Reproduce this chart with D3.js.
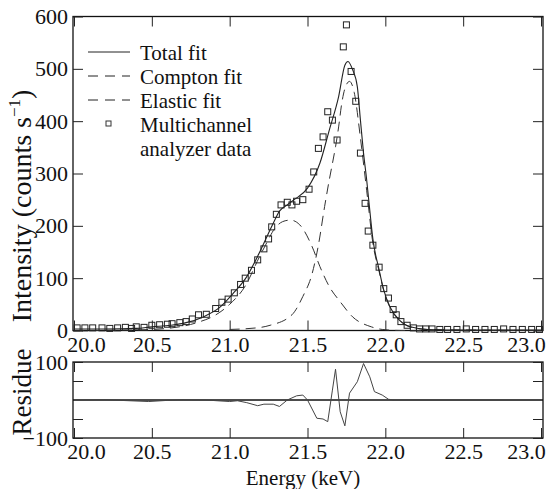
<!DOCTYPE html>
<html>
<head>
<meta charset="utf-8">
<script src="https://cdn.jsdelivr.net/npm/d3@7"></script>
<style>
body{margin:0;background:#fff}
text{font-family:"Liberation Serif","Times New Roman",serif;fill:#111}
</style>
</head>
<body>
<div id="chart"></div>
<script>
// multichannel analyzer data (keV, counts/s)
var energy = [20.02,20.07,20.12,20.18,20.23,20.28,20.33,20.37,20.40,20.45,20.50,20.55,20.60,20.63,20.68,20.72,20.76,20.80,20.85,20.91,20.95,20.99,21.03,21.07,21.10,21.14,21.18,21.22,21.25,21.27,21.30,21.33,21.37,21.40,21.43,21.47,21.51,21.54,21.57,21.60,21.63,21.66,21.69,21.73,21.75,21.78,21.81,21.84,21.87,21.89,21.92,21.96,21.99,22.02,22.05,22.07,22.10,22.14,22.18,22.22,22.26,22.30,22.35,22.40,22.46,22.52,22.58,22.64,22.70,22.76,22.82,22.88,22.94,22.99];
var counts = [5,5,5,5,4,5,6,4,7,6,10,11,12,13,15,17,22,30,31,42,54,60,72,88,100,115,135,156,175,198,222,240,245,240,247,250,270,303,348,370,418,402,364,542,584,495,438,339,243,190,163,121,80,62,40,30,17,10,5,3,3,3,2,2,2,3,2,2,2,3,2,2,2,2];

// total fit
var totalE   = [20.00,20.20,20.40,20.50,20.62,20.72,20.83,20.94,21.02,21.11,21.19,21.28,21.32,21.37,21.41,21.50,21.58,21.64,21.70,21.74,21.76,21.79,21.82,21.84,21.86,21.88,21.90,21.92,21.96,21.99,22.03,22.09,22.16,22.27,22.50,23.00];
var totalFit = [3,3,4,7,10,15,26,45,70,103,148,205,228,240,249,272,320,383,447,507,514,498,466,402,339,288,230,175,116,77,45,20,7,2,1,1];

// Compton fit
var comptonE   = [20.00,20.40,20.60,20.80,20.90,21.00,21.10,21.19,21.23,21.29,21.34,21.39,21.45,21.53,21.58,21.64,21.71,21.79,21.91,21.98,22.10,23.00];
var comptonFit = [0,1,4,16,28,50,85,140,163,195,208,211,202,160,122,84,55,26,7,2,0,0];

// Elastic fit
var elasticE   = [21.00,21.20,21.26,21.40,21.47,21.53,21.57,21.61,21.64,21.66,21.68,21.70,21.72,21.74,21.77,21.80,21.84,21.88,21.92,21.96,21.99,22.03,22.09,22.16,22.27,23.00];
var elasticFit = [2,6,10,30,65,109,163,237,288,319,351,389,434,462,476,455,368,268,167,113,76,44,20,7,2,0];

// residue
var residE  = [20.00,20.20,20.30,20.48,20.60,20.70,20.85,20.92,21.00,21.05,21.11,21.18,21.22,21.28,21.32,21.37,21.43,21.47,21.50,21.56,21.60,21.63,21.66,21.68,21.71,21.74,21.77,21.82,21.86,21.90,21.93,21.98,22.02,22.05,23.00];
var residue = [0,1,-1,-4,-1,1,0,-2,-4,-2,-7,-15,-11,-11,-17,0,11,13,0,-48,-50,-57,26,81,-31,-68,18,48,96,61,22,13,2,0,0];

var xTicks = [20.0,20.5,21.0,21.5,22.0,22.5,23.0];
var yTicks = [0,100,200,300,400,500,600];
var resTicks = [-100,-50,50,100];
var resLabels = [-100,100];

var w = 547, h = 489;
var svg = d3.select("#chart").append("svg")
    .attr("width", w)
    .attr("height", h);

var x = d3.scaleLinear().domain([20, 23]).range([74, 541]);
var y = d3.scaleLinear().domain([0, 600]).range([330.5, 16.5]);
var yr = d3.scaleLinear().domain([-100, 100]).range([438, 362]);

var frameL = 73, frameR = 543;
var serif = "'Liberation Serif', 'Times New Roman', serif";

// frames
svg.append("rect")
    .attr("x", frameL).attr("y", y(600))
    .attr("width", frameR - frameL).attr("height", y(0) - y(600))
    .attr("fill", "none").attr("stroke", "#111").attr("stroke-width", 1.3);
svg.append("rect")
    .attr("x", frameL).attr("y", yr(100))
    .attr("width", frameR - frameL).attr("height", yr(-100) - yr(100))
    .attr("fill", "none").attr("stroke", "#111").attr("stroke-width", 1.3);

function clean(g) {
    g.attr("font-family", null);
    g.select(".domain").remove();
    g.selectAll("line").attr("stroke", "#222");
    g.selectAll("text").attr("font-size", 22).attr("fill", "#111");
}

function shiftEnds(g) {
    g.selectAll("text").filter(function(d) { return d === 20; }).attr("dx", 12);
    g.selectAll("text").filter(function(d) { return d === 23; }).attr("dx", -15);
}

// main panel axes
svg.append("g").attr("transform", "translate(0," + y(0) + ")")
    .call(d3.axisBottom(x).tickValues(xTicks).tickSizeInner(-10).tickSizeOuter(0).tickPadding(6)
        .tickFormat(d3.format(".1f")))
    .call(clean)
    .call(shiftEnds);
svg.append("g").attr("transform", "translate(0," + y(600) + ")")
    .call(d3.axisTop(x).tickValues(xTicks).tickSizeInner(-10).tickSizeOuter(0).tickFormat(""))
    .call(clean);
svg.append("g").attr("transform", "translate(" + frameL + ",0)")
    .call(d3.axisLeft(y).tickValues(yTicks).tickSizeInner(-10).tickSizeOuter(0).tickPadding(5))
    .call(clean);
svg.append("g").attr("transform", "translate(" + frameR + ",0)")
    .call(d3.axisRight(y).tickValues(yTicks).tickSizeInner(-10).tickSizeOuter(0).tickFormat(""))
    .call(clean);

// residue panel axes
svg.append("g").attr("transform", "translate(0," + yr(-100) + ")")
    .call(d3.axisBottom(x).tickValues(xTicks).tickSizeInner(-10).tickSizeOuter(0).tickPadding(5)
        .tickFormat(d3.format(".1f")))
    .call(clean)
    .call(shiftEnds);
svg.append("g").attr("transform", "translate(0," + yr(100) + ")")
    .call(d3.axisTop(x).tickValues(xTicks).tickSizeInner(-10).tickSizeOuter(0).tickFormat(""))
    .call(clean);
svg.append("g").attr("transform", "translate(" + frameL + ",0)")
    .call(d3.axisLeft(yr).tickValues(resTicks).tickSizeInner(-10).tickSizeOuter(0).tickPadding(5)
        .tickFormat(function(d) { return resLabels.indexOf(d) >= 0 ? String(d).replace("-", "\u2212") : ""; }))
    .call(clean);
svg.append("g").attr("transform", "translate(" + frameR + ",0)")
    .call(d3.axisRight(yr).tickValues(resTicks).tickSizeInner(-10).tickSizeOuter(0).tickFormat(""))
    .call(clean);

// fits
var line = function(xs) {
    return d3.line()
        .x(function(d, i) { return x(xs[i]); })
        .y(function(d) { return y(d); })
        .curve(d3.curveMonotoneX);
};

svg.append("path").datum(comptonFit)
    .attr("d", line(comptonE))
    .attr("fill", "none").attr("stroke", "#333").attr("stroke-width", 1)
    .attr("stroke-dasharray", "10,6");
svg.append("path").datum(elasticFit)
    .attr("d", line(elasticE))
    .attr("fill", "none").attr("stroke", "#333").attr("stroke-width", 1)
    .attr("stroke-dasharray", "10,6");
svg.append("path").datum(totalFit)
    .attr("d", line(totalE))
    .attr("fill", "none").attr("stroke", "#222").attr("stroke-width", 1.1);

// data squares
var sq = 6;
svg.selectAll("rect.pt")
    .data(counts)
  .enter().append("rect")
    .attr("class", "pt")
    .attr("x", function(d, i) { return x(energy[i]) - sq / 2; })
    .attr("y", function(d) { return y(d) - sq / 2; })
    .attr("width", sq).attr("height", sq)
    .attr("fill", "none").attr("stroke", "#222").attr("stroke-width", 1);

// residue
svg.append("line")
    .attr("x1", frameL).attr("x2", frameR)
    .attr("y1", yr(0)).attr("y2", yr(0))
    .attr("stroke", "#111").attr("stroke-width", 1.5);
svg.append("path").datum(residue)
    .attr("d", d3.line()
        .x(function(d, i) { return x(residE[i]); })
        .y(function(d) { return yr(d); }))
    .attr("fill", "none").attr("stroke", "#444").attr("stroke-width", 1);

// legend
var legendItems = ["Total fit", "Compton fit", "Elastic fit"];
var legendDash = [null, "10,7", "10,7"];
var lg = svg.append("g").attr("transform", "translate(88,0)");
legendItems.forEach(function(t, i) {
    var yy = 52 + i * 24;
    lg.append("line").attr("x1", 0).attr("x2", 42).attr("y1", yy).attr("y2", yy)
        .attr("stroke", "#222").attr("stroke-width", 1)
        .attr("stroke-dasharray", legendDash[i]);
    lg.append("text").attr("x", 52).attr("y", yy + 8).attr("font-size", 21).text(t);
});
lg.append("rect").attr("x", 18).attr("y", 121).attr("width", 5).attr("height", 5)
    .attr("fill", "none").attr("stroke", "#333").attr("stroke-width", 1);
lg.append("text").attr("x", 52).attr("y", 132).attr("font-size", 21).text("Multichannel");
lg.append("text").attr("x", 52).attr("y", 156).attr("font-size", 21).text("analyzer data");

// axis titles
var yt = svg.append("text")
    .attr("transform", "translate(31,206) rotate(-90)")
    .attr("text-anchor", "middle")
    .attr("font-size", 28);
yt.append("tspan").text("Intensity (counts s");
yt.append("tspan").attr("font-size", 17).attr("dy", -11).text("\u22121");
yt.append("tspan").attr("dy", 11).text(")");

svg.append("text")
    .attr("transform", "translate(31,392) rotate(-90)")
    .attr("text-anchor", "middle")
    .attr("font-size", 27)
    .text("Residue");

svg.append("text")
    .attr("x", 303).attr("y", 485)
    .attr("text-anchor", "middle")
    .attr("font-size", 21)
    .text("Energy (keV)");

svg.selectAll("text").style("font-family", serif);
</script>
</body>
</html>
